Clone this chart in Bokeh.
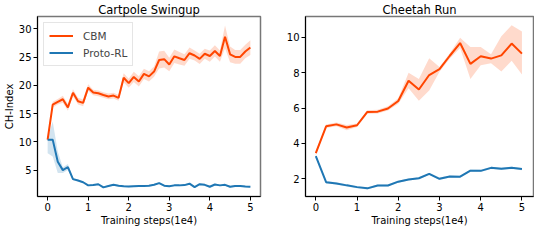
from bokeh.plotting import figure
from bokeh.layouts import row
from bokeh.models import Range1d, FixedTicker, Legend, LegendItem
from bokeh.embed import file_html
from bokeh.resources import INLINE

# ---------------- data ----------------
steps_cp = [i * 0.125 for i in range(41)]
cbm_cp = [10.4, 16.6, 17.1, 17.55, 16.1, 18.7, 17.2, 16.9, 19.6, 18.75,
          18.6, 18.3, 18.05, 18.2, 17.8, 21.35, 20.4, 21.5, 20.7, 22.05,
          21.6, 22.45, 24.5, 24.65, 23.7, 25.15, 24.8, 24.5, 25.7, 25.3,
          24.7, 25.6, 25.2, 26.1, 25.2, 28.6, 25.5, 25.05, 25.05, 26.0, 26.7]
cbm_cp_spread = [0.3, 0.5, 0.5, 0.6, 0.6, 0.6, 0.6, 0.6, 0.6, 0.5,
                 0.5, 0.5, 0.5, 0.5, 0.5, 0.8, 0.8, 0.9, 0.9, 0.9,
                 0.9, 0.9, 1.5, 1.5, 1.2, 1.2, 1.1, 1.0, 1.0, 0.9,
                 0.9, 0.9, 1.0, 1.0, 1.0, 2.0, 1.4, 1.2, 1.2, 1.2, 1.3]
proto_cp = [10.4, 10.4, 6.5, 5.0, 5.55, 3.4, 3.15, 2.85, 2.3, 2.35,
            2.5, 1.95, 2.2, 2.4, 2.25, 2.15, 2.1, 2.15, 2.2, 2.2,
            2.25, 2.4, 2.7, 2.25, 2.15, 2.3, 2.3, 2.35, 2.6, 2.0,
            2.5, 2.4, 2.05, 2.45, 2.3, 2.4, 2.05, 2.2, 2.2, 2.1, 2.05]
proto_cp_lo = [8.0, 7.4, 4.5, 4.5, 5.0, 3.2, 3.0, 2.7, 2.15, 2.2,
               2.35, 1.8, 2.05, 2.25, 2.1, 2.0, 1.95, 2.0, 2.05, 2.05,
               2.1, 2.25, 2.55, 2.1, 2.0, 2.15, 2.15, 2.2, 2.45, 1.85,
               2.35, 2.25, 1.9, 2.3, 2.15, 2.25, 1.9, 2.05, 2.05, 1.95, 1.9]
proto_cp_hi = [10.6, 13.6, 8.3, 5.5, 6.1, 3.6, 3.3, 3.0, 2.45, 2.5,
               2.65, 2.1, 2.35, 2.55, 2.4, 2.3, 2.25, 2.3, 2.35, 2.35,
               2.4, 2.55, 2.85, 2.4, 2.3, 2.45, 2.45, 2.5, 2.75, 2.15,
               2.65, 2.55, 2.2, 2.6, 2.45, 2.55, 2.2, 2.35, 2.35, 2.25, 2.2]

steps_ch = [i * 0.25 for i in range(21)]
cbm_ch = [3.45, 4.97, 5.08, 4.9, 5.03, 5.78, 5.8, 5.98, 6.4, 7.55,
          7.05, 7.87, 8.2, 8.96, 9.68, 8.5, 8.93, 8.8, 8.98, 9.65, 9.08]
cbm_ch_lo = [3.35, 4.87, 4.98, 4.75, 4.93, 5.68, 5.7, 5.86, 6.25, 7.12,
             6.42, 7.0, 8.05, 8.8, 9.4, 7.64, 8.42, 8.53, 8.07, 8.68, 7.9]
cbm_ch_hi = [3.55, 5.07, 5.18, 5.05, 5.13, 5.88, 5.9, 6.1, 6.55, 8.0,
             7.65, 8.82, 8.32, 9.1, 9.98, 9.46, 9.46, 9.05, 10.07, 10.68, 10.33]
proto_ch = [3.29, 1.81, 1.74, 1.63, 1.53, 1.46, 1.62, 1.62, 1.84, 1.96,
            2.03, 2.28, 2.0, 2.13, 2.12, 2.46, 2.45, 2.62, 2.57, 2.62, 2.55]
proto_ch_spread = [0.08, 0.07, 0.06, 0.06, 0.06, 0.06, 0.06, 0.06, 0.06, 0.06,
                   0.06, 0.06, 0.07, 0.06, 0.06, 0.06, 0.06, 0.06, 0.07, 0.06, 0.06]

x_ticks = [0, 1, 2, 3, 4, 5]
y_ticks_cp = [5, 10, 15, 20, 25, 30]
y_ticks_ch = [2, 4, 6, 8, 10]

ORANGE = "#ff4500"
BLUE = "#1f77b4"
FONT = "DejaVu Sans"


def style(p, title, yticks):
    p.title.text = title
    p.title.align = "center"
    p.title.text_font = FONT
    p.title.text_font_size = "11.5px"
    p.title.text_font_style = "normal"
    p.title.text_color = "black"
    p.title.standoff = 0
    p.grid.visible = False
    p.outline_line_color = "#777777"
    p.outline_line_width = 1.5
    for ax in (p.xaxis, p.yaxis):
        ax.axis_line_color = "black"
        ax.axis_line_width = 1
        ax.major_tick_line_color = "black"
        ax.major_tick_out = 4
        ax.major_tick_in = 0
        ax.minor_tick_line_color = None
        ax.major_label_text_font = FONT
        ax.major_label_text_font_size = "10px"
        ax.major_label_text_color = "black"
        ax.major_label_standoff = 2
        ax.axis_label_text_font = FONT
        ax.axis_label_text_font_size = "10px"
        ax.axis_label_text_font_style = "normal"
        ax.axis_label_text_color = "black"
        ax.axis_label_standoff = 1
    p.xaxis.ticker = FixedTicker(ticks=x_ticks)
    p.yaxis.ticker = FixedTicker(ticks=yticks)
    p.xaxis.axis_label = "Training steps(1e4)"


p1 = figure(width=267, height=228, x_range=Range1d(-0.25, 5.25),
            y_range=Range1d(0.33, 32.2), output_backend="svg",
            toolbar_location=None, min_border_left=33, min_border_right=7,
            min_border_top=15, min_border_bottom=4)
style(p1, "Cartpole Swingup", y_ticks_cp)
p1.yaxis.axis_label = "CH-Index"

cp_lo = [m - s for m, s in zip(cbm_cp, cbm_cp_spread)]
cp_hi = [m + s for m, s in zip(cbm_cp, cbm_cp_spread)]
p1.varea(x=steps_cp, y1=cp_lo, y2=cp_hi, fill_color=ORANGE, fill_alpha=0.2)
p1.varea(x=steps_cp, y1=proto_cp_lo, y2=proto_cp_hi, fill_color=BLUE, fill_alpha=0.2)
r_cbm = p1.line(steps_cp, cbm_cp, line_color=ORANGE, line_width=2)
r_proto = p1.line(steps_cp, proto_cp, line_color=BLUE, line_width=2)

legend = Legend(items=[LegendItem(label="CBM", renderers=[r_cbm]),
                       LegendItem(label="Proto-RL", renderers=[r_proto])],
                location="top_left")
legend.label_text_font = FONT
legend.label_text_font_size = "10.5px"
legend.border_line_color = "#cccccc"
legend.border_line_width = 1
legend.glyph_width = 24
legend.glyph_height = 15
legend.label_height = 15
legend.spacing = 2
legend.padding = 5
legend.margin = 6
legend.label_standoff = 10
p1.add_layout(legend)

p2 = figure(width=267, height=228, x_range=Range1d(-0.25, 5.28),
            y_range=Range1d(1.0, 11.18), output_backend="svg",
            toolbar_location=None, min_border_left=38, min_border_right=1,
            min_border_top=15, min_border_bottom=4)
style(p2, "Cheetah Run", y_ticks_ch)

ch_lo = [m - s for m, s in zip(proto_ch, proto_ch_spread)]
ch_hi = [m + s for m, s in zip(proto_ch, proto_ch_spread)]
p2.varea(x=steps_ch, y1=cbm_ch_lo, y2=cbm_ch_hi, fill_color=ORANGE, fill_alpha=0.2)
p2.varea(x=steps_ch, y1=ch_lo, y2=ch_hi, fill_color=BLUE, fill_alpha=0.2)
p2.line(steps_ch, cbm_ch, line_color=ORANGE, line_width=2)
p2.line(steps_ch, proto_ch, line_color=BLUE, line_width=2)

layout = row(p1, p2)
open("out.html", "w").write(file_html(layout, INLINE))
